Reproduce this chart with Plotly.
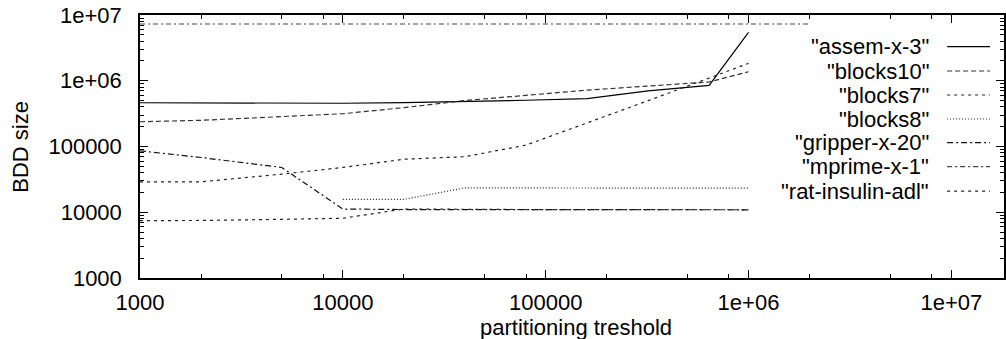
import plotly.graph_objects as go

# ---- data ----
X = [1000, 2000, 5000, 10000, 20000, 40000, 80000, 160000, 320000, 640000, 1000000]
X_MPRIME = [1000, 2000, 5000, 10000, 20000, 40000, 80000, 160000, 320000, 640000, 1000000, 2000000]
X_BLOCKS8 = [10000, 20000, 40000, 80000, 160000, 320000, 640000, 1000000]

assem = [463000, 460000, 455000, 455000, 465000, 480000, 505000, 535000, 700000, 850000, 5450000]
blocks10 = [238000, 250000, 285000, 315000, 390000, 500000, 600000, 720000, 830000, 960000, 1370000]
blocks7 = [29000, 29000, 38000, 48000, 64000, 70000, 105000, 226000, 498000, 1100000, 1840000]
blocks8 = [15700, 15700, 23500, 23300, 23300, 23300, 23300, 23200]
gripper = [86000, 68000, 48000, 11200, 11000, 11000, 11000, 11000, 10900, 10900, 10900]
mprime = [7300000, 7300000, 7300000, 7300000, 7300000, 7300000, 7300000, 7300000, 7300000, 7300000, 7300000, 7300000]
rat = [7450, 7500, 7800, 8100, 11200, 11000, 11000, 11000, 10900, 10900, 10900]

names = ['"assem-x-3"', '"blocks10"', '"blocks7"', '"blocks8"', '"gripper-x-20"', '"mprime-x-1"', '"rat-insulin-adl"']
xs = [X, X, X, X_BLOCKS8, X, X_MPRIME, X]
ys = [assem, blocks10, blocks7, blocks8, gripper, mprime, rat]
dashes = ["solid", "5px,3px", "3px,4px", "1px,2px", "6px,3px,2px,3px", "5px,3px,2px,3px", "3px,4px"]
colors = ["#000000", "#333333", "#222222", "#222222", "#111111", "#444444", "#222222"]

x_major = [1e3, 1e4, 1e5, 1e6, 1e7]
x_major_text = ["1000", "10000", "100000", "1e+06", "1e+07"]
y_major = [1e3, 1e4, 1e5, 1e6, 1e7]
y_major_text = ["1000", "10000", "100000", "1e+06", "1e+07"]
x_minor = [m * d for d in [1e3, 1e4, 1e5, 1e6, 1e7] for m in (2, 5, 8)]
y_minor = [m * d for d in [1e3, 1e4, 1e5, 1e6] for m in range(2, 10)]

FONT = "Liberation Sans, Arial, Helvetica, sans-serif"
FS = 22

# ---- geometry (pixels) ----
W, H = 1006, 339
L, R, T, B = 140, 0, 15, 61
PW = W - L - R
PH = H - T - B

def px2paper_x(px):
    return (px - L) / PW

def py2paper_y(py):
    return (H - B - py) / PH

fig = go.Figure()
for n, x, y, d, c in zip(names, xs, ys, dashes, colors):
    fig.add_trace(go.Scatter(x=x, y=y, mode="lines", name=n,
                             line=dict(color=c, width=1.2, dash=d),
                             showlegend=False))

# custom gnuplot-style key (text right, sample line to the right)
row_y = [46.7, 71, 95, 119, 142.7, 166.7, 191.2]
for n, d, c, ry in zip(names, dashes, colors, row_y):
    fig.add_annotation(x=px2paper_x(933), y=py2paper_y(ry), xref="paper", yref="paper",
                       text=n, showarrow=False, xanchor="right", yanchor="middle",
                       font=dict(family=FONT, size=FS, color="black"))
    fig.add_shape(type="line", xref="paper", yref="paper",
                  x0=px2paper_x(949), x1=px2paper_x(992),
                  y0=py2paper_y(ry), y1=py2paper_y(ry),
                  line=dict(color=c, width=1.2, dash=d))

# axis titles
fig.add_annotation(x=px2paper_x(577), y=py2paper_y(327), xref="paper", yref="paper",
                   text="partitioning treshold", showarrow=False,
                   xanchor="center", yanchor="middle",
                   font=dict(family=FONT, size=FS, color="black"))
fig.add_annotation(x=px2paper_x(20), y=0.5, xref="paper", yref="paper",
                   text="BDD size", showarrow=False, textangle=-90,
                   xanchor="center", yanchor="middle",
                   font=dict(family=FONT, size=FS, color="black"))

fig.update_xaxes(type="log", range=[3, 3 + PW / 203.3], showgrid=False, zeroline=False,
                 tickmode="array", tickvals=x_major, ticktext=x_major_text,
                 ticks="inside", ticklen=8, tickwidth=1, tickcolor="black",
                 showline=True, linecolor="black", linewidth=1.5, mirror="allticks",
                 ticklabelstandoff=4,
                 minor=dict(tickmode="array", tickvals=x_minor, ticks="inside",
                            ticklen=4, tickwidth=1, tickcolor="black", showgrid=False),
                 tickfont=dict(family=FONT, size=FS, color="black"))
fig.update_yaxes(type="log", range=[3, 7], showgrid=False, zeroline=False,
                 tickmode="array", tickvals=y_major, ticktext=y_major_text,
                 ticks="inside", ticklen=8, tickwidth=1, tickcolor="black",
                 showline=True, linecolor="black", linewidth=1.5, mirror="allticks",
                 ticklabelstandoff=12,
                 minor=dict(tickmode="array", tickvals=y_minor, ticks="inside",
                            ticklen=4, tickwidth=1, tickcolor="black", showgrid=False),
                 tickfont=dict(family=FONT, size=FS, color="black"))

fig.update_layout(width=W, height=H, margin=dict(l=L, r=R, t=T, b=B),
                  paper_bgcolor="white", plot_bgcolor="white", showlegend=False)

fig.write_html("out.html", config={"displayModeBar": False},
               post_script="document.body.style.margin='0px';document.body.style.overflow='hidden';")
